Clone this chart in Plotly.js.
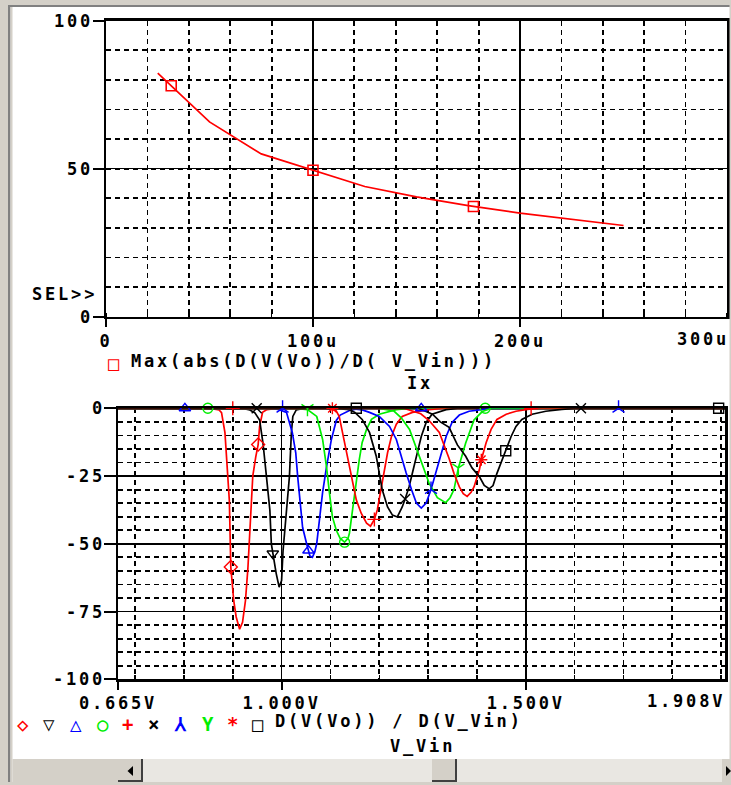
<!DOCTYPE html>
<html><head><meta charset="utf-8">
<script src="https://cdn.plot.ly/plotly-3.0.1.min.js"></script>
<style>
html,body{margin:0;padding:0;background:#fff;overflow:hidden}
svg text{letter-spacing:2.8px;font-weight:700 !important}
</style></head>
<body><div id="chart" style="width:731px;height:785px"></div>
<script>
// ---------- top plot data: Max(abs(D(V(Vo))/D(V_Vin))) vs Ix ----------
const ixValues = [25e-6, 50e-6, 75e-6, 100e-6, 125e-6, 150e-6, 175e-6, 200e-6, 225e-6, 250e-6];
const maxGain  = [82.3, 65.8, 55.0, 49.5, 44.0, 40.5, 37.5, 35.0, 33.0, 30.8];
const topMarkerIx = [31.5e-6, 100e-6, 177.5e-6];

const topXTickVals = [0, 100e-6, 200e-6];
const topXTickText = ['0', '100u', '200u'];
const topXEndLabel = '300u';
const topYTickVals = [0, 50, 100];
const topYTickText = ['0', '50', '100'];

// ---------- bottom plot data: D(V(Vo))/D(V_Vin) vs V_Vin, one per Ix step ----------
const v1 = [0.665,0.80,0.86,0.872,0.877,0.884,0.890,0.893,0.896,0.902,0.907,0.914,0.920,0.926,0.931,0.935,0.938,0.941,0.947,0.952,0.955,0.961,0.970,0.99,1.908];
const d1 = [0,0,-0.2,-0.6,-1.6,-9,-25,-34,-58.6,-71,-77,-81.5,-79,-71,-59,-46,-34,-25,-18,-13.4,-6.7,-1.5,-0.5,0,0];
const v2 = [0.665,0.90,0.925,0.935,0.945,0.955,0.962,0.969,0.976,0.979,0.984,0.989,0.995,1.000,1.003,1.010,1.016,1.020,1.023,1.030,1.045,1.908];
const d2 = [0,0,-0.2,-0.6,-1.6,-4.3,-13,-25.2,-37.6,-50,-56,-61,-66,-63.6,-52.5,-37.6,-25.2,-9.1,-3,-0.6,0,0];
const v3 = [0.665,0.98,0.995,1.010,1.022,1.029,1.033,1.037,1.043,1.051,1.058,1.063,1.068,1.072,1.078,1.084,1.092,1.102,1.112,1.120,1.139,1.16,1.908];
const d3 = [0,0,-0.5,-1.5,-9,-16.4,-25.3,-33.8,-43.9,-49.8,-54.5,-55,-53,-49.8,-40,-31,-21.6,-11.5,-4.5,-2.5,-0.8,0,0];
const v4 = [0.665,1.03,1.053,1.072,1.084,1.092,1.098,1.104,1.112,1.120,1.129,1.136,1.139,1.145,1.153,1.159,1.165,1.174,1.184,1.200,1.235,1.26,1.908];
const d4 = [0,0,-0.5,-3,-11.5,-21.6,-31.2,-40,-45,-48,-49.4,-48,-46,-37.5,-27.5,-19,-12.6,-7.8,-4.1,-2.2,-0.5,0,0];
const v5 = [0.665,1.09,1.105,1.112,1.118,1.125,1.135,1.143,1.153,1.163,1.174,1.182,1.190,1.196,1.204,1.210,1.217,1.225,1.235,1.247,1.268,1.302,1.33,1.908];
const d5 = [0,0,-0.5,-1,-3,-8.9,-17.8,-25.3,-33.8,-38.7,-42.4,-43.5,-41,-37.5,-30,-23.8,-16.4,-10.4,-5.9,-3,-1.5,-0.5,0,0];
const v6 = [0.665,1.11,1.139,1.150,1.165,1.180,1.194,1.200,1.206,1.217,1.227,1.237,1.247,1.253,1.261,1.268,1.276,1.286,1.296,1.308,1.337,1.36,1.908];
const d6 = [0,0,-0.5,-1.5,-4.1,-8.9,-17.8,-23.8,-30,-36.4,-39.4,-40.1,-36.4,-33.5,-29,-23.8,-17.8,-10.4,-5.2,-2.2,-0.5,0,0];
const v7 = [0.665,1.14,1.165,1.180,1.200,1.221,1.235,1.245,1.255,1.266,1.276,1.286,1.296,1.306,1.317,1.327,1.337,1.349,1.364,1.384,1.405,1.43,1.908];
const d7 = [0,0,-0.6,-1.5,-3,-6.7,-11.5,-17.8,-23.8,-30,-35,-36.8,-35,-30,-22.7,-16.4,-10.4,-5.2,-2.5,-1.1,-0.5,0,0];
const v8 = [0.665,1.20,1.230,1.245,1.262,1.282,1.302,1.319,1.336,1.345,1.353,1.362,1.377,1.394,1.411,1.43,1.908];
const d8 = [0,0,-1,-3.5,-7.8,-17.7,-27.6,-33,-34.8,-33,-30,-22,-12.8,-4.3,-1.2,0,0];
const v9 = [0.665,1.25,1.285,1.302,1.323,1.337,1.343,1.353,1.364,1.372,1.380,1.388,1.394,1.405,1.409,1.419,1.429,1.441,1.460,1.480,1.507,1.53,1.908];
const d9 = [0,0,-2,-4.5,-8.9,-15.2,-18.5,-24,-29,-31.5,-32.5,-31,-29,-22.7,-19,-12.6,-7.8,-4.1,-2.2,-1.1,-0.3,0,0];
const v10 = [0.665,1.28,1.309,1.325,1.343,1.360,1.377,1.390,1.405,1.415,1.425,1.433,1.441,1.452,1.460,1.470,1.480,1.492,1.513,1.541,1.574,1.60,1.908];
const d10 = [0,0,-2.2,-5,-7,-13.5,-17.7,-22,-25.2,-28.5,-29.7,-28.5,-24,-19,-15.2,-10.4,-6.7,-4.1,-2.2,-1.1,-0.4,0,0];

const markerV = [[0.896,0.952],[0.982],[0.802,1.055,1.286],[0.849,1.129,1.417],[0.900,1.190,1.511],
                 [0.949,1.253,1.613],[1.002,1.306,1.690],[1.053,1.362],[1.104,1.409],[1.153,1.459,1.895]];

const botXTickVals = [0.665, 1.0, 1.5];
const botXTickText = ['0.665V', '1.000V', '1.500V'];
const botXEndLabel = '1.908V';
const botYTickVals = [-100, -75, -50, -25, 0];
const botYTickText = ['-100', '-75', '-50', '-25', '0'];

const legendSymbols = ['\u25C7','\u25BD','\u25B3','\u25CB','+','\u00D7','\u2144','Y','*','\u25A1'];
const topLegendText = 'Max(abs(D(V(Vo))/D( V_Vin)))';
const botLegendText = 'D(V(Vo)) / D(V_Vin)';

// ---------- styles ----------
const seriesV = [v1,v2,v3,v4,v5,v6,v7,v8,v9,v10];
const seriesD = [d1,d2,d3,d4,d5,d6,d7,d8,d9,d10];
const colors = ['#ff0000','#000000','#0000ff','#00ee00','#ff0000','#000000','#0000ff','#00ee00','#ff0000','#000000'];
const symbols = ['diamond-open','triangle-down-open','triangle-up-open','circle-open','cross-thin','x-thin','y-up','y-down','asterisk','square-open'];

const W = 731, H = 785;
const px = x => x / W, py = y => 1 - y / H;
function interp(xs, ys, x) {
  for (let i = 1; i < xs.length; i++) {
    if (x <= xs[i]) { const t = (x - xs[i-1]) / (xs[i] - xs[i-1]); return ys[i-1] + t * (ys[i] - ys[i-1]); }
  }
  return ys[ys.length - 1];
}

const traces = [];
traces.push({x: ixValues, y: maxGain, type: 'scatter', mode: 'lines', xaxis: 'x', yaxis: 'y',
  line: {color: '#ff0000', width: 1.7}});
traces.push({x: topMarkerIx, y: topMarkerIx.map(x => interp(ixValues, maxGain, x)), type: 'scatter', mode: 'markers',
  xaxis: 'x', yaxis: 'y', cliponaxis: false,
  marker: {symbol: 'square-open', size: 10, color: '#ff0000', line: {width: 1.6, color: '#ff0000'}}});
for (let i = 0; i < 10; i++) {
  traces.push({x: seriesV[i], y: seriesD[i], type: 'scatter', mode: 'lines', xaxis: 'x2', yaxis: 'y2',
    line: {color: colors[i], width: 1.7}});
}
for (let i = 0; i < 10; i++) {
  traces.push({x: markerV[i], y: markerV[i].map(x => interp(seriesV[i], seriesD[i], x)), type: 'scatter', mode: 'markers',
    xaxis: 'x2', yaxis: 'y2', cliponaxis: false,
    marker: {symbol: symbols[i], size: 10, color: colors[i], line: {width: 1.4, color: colors[i]}}});
}

const FONT = '"DejaVu Sans Mono", monospace';
const FS = 17;
const tickFont = {family: FONT, size: FS, color: '#000', weight: 'bold'};
const minorGrid = {showgrid: true, gridcolor: '#000', griddash: '5px,4px', gridwidth: 1.8};
function axis(o) {
  return Object.assign({showline: true, linewidth: 2.5, linecolor: '#000', mirror: true,
    showgrid: true, gridcolor: '#000', gridwidth: 1.5, zeroline: false, ticks: 'outside',
    tickcolor: '#000', tickwidth: 2, tickfont: tickFont, fixedrange: true, tickmode: 'array'}, o);
}

const layout = {
  width: W, height: H, margin: {l: 0, r: 0, t: 0, b: 0},
  paper_bgcolor: '#fff', plot_bgcolor: '#fff', showlegend: false, hovermode: false,
  font: {family: FONT, size: FS, color: '#000', weight: 'bold'},
  xaxis: axis({domain: [px(106), px(727)], range: [0, 300e-6], anchor: 'y',
    tickvals: topXTickVals, ticktext: topXTickText, ticklen: 8, ticklabelstandoff: -1,
    minor: Object.assign({tickmode: 'linear', tick0: 0, dtick: 20e-6, ticks: 'inside', ticklen: 4, tickcolor: '#000', tickwidth: 1.5}, minorGrid)}),
  yaxis: axis({domain: [py(316.7), py(20.7)], range: [0, 100], anchor: 'x',
    tickvals: topYTickVals, ticktext: topYTickText, ticklen: 11, ticklabelstandoff: -4,
    minor: Object.assign({tickmode: 'linear', tick0: 0, dtick: 10, ticks: ''}, minorGrid)}),
  xaxis2: axis({domain: [px(118), px(725)], range: [0.665, 1.908], anchor: 'y2',
    tickvals: botXTickVals, ticktext: botXTickText, ticklen: 8, ticklabelstandoff: -1,
    minor: Object.assign({tickmode: 'linear', tick0: 0, dtick: 0.1, ticks: 'inside', ticklen: 4, tickcolor: '#000', tickwidth: 1.5}, minorGrid)}),
  yaxis2: axis({domain: [py(679.3), py(408.3)], range: [-100, 0], anchor: 'x2',
    tickvals: botYTickVals, ticktext: botYTickText, ticklen: 12, ticklabelstandoff: -5,
    minor: Object.assign({tickmode: 'linear', tick0: 0, dtick: 5, ticks: ''}, minorGrid)}),
  annotations: [],
  shapes: []
};

function ann(text, x, y, xanchor, color, size) {
  layout.annotations.push({text: text, xref: 'paper', yref: 'paper', x: px(x), y: py(y), xanchor: xanchor, yanchor: 'middle',
    showarrow: false, borderpad: 0, font: {family: FONT, size: size || FS, color: color || '#000', weight: 'bold'}});
}
ann(topXEndLabel, 730, 339, 'right');
ann(botXEndLabel, 726, 701, 'right');
ann('SEL>>', 31, 294, 'left');
ann('\u25A1', 115, 363, 'center', '#ff0000', 19);
ann(topLegendText, 130, 361, 'left');
ann('Ix', 420, 383, 'center');
const legX = [22, 48, 75, 102, 127, 153, 180, 207, 232, 257];
legendSymbols.forEach((s, i) => ann(s, legX[i] + 1.5, 724, 'center', colors[i], 19));
ann(botLegendText, 274, 721, 'left');
ann('V_Vin', 423, 746, 'center');

function rect(x0, y0, x1, y1, color) {
  layout.shapes.push({type: 'rect', xref: 'paper', yref: 'paper', x0: px(x0), x1: px(x1), y0: py(y0), y1: py(y1),
    fillcolor: color, line: {width: 0}, layer: 'above'});
}
function path(pts, color) {
  const d = pts.map((p, i) => (i ? 'L' : 'M') + px(p[0]) + ',' + py(p[1])).join(' ') + ' Z';
  layout.shapes.push({type: 'path', xref: 'paper', yref: 'paper', path: d, fillcolor: color, line: {width: 0}, layer: 'above'});
}
// window chrome
rect(0, 0, 731, 5, '#d4d0c8');
rect(0, 5, 731, 7, '#808080');
rect(0, 0, 8, 785, '#d4d0c8');
rect(8, 5, 10.5, 785, '#808080');
rect(10.5, 7, 12.5, 785, '#d4d0c8');
rect(729.5, 5, 731, 785, '#d4d0c8');
// scrollbar
rect(12.5, 759, 118, 782, '#d4d0c8');
rect(143, 759, 722, 782, '#e9e7e2');
rect(118, 759, 143, 782, '#d4d0c8');
rect(141, 759, 143, 782, '#404040');
rect(118, 780, 143, 782, '#404040');
rect(432, 759, 457, 782, '#d4d0c8');
rect(455, 759, 457, 782, '#404040');
rect(432, 780, 457, 782, '#404040');
rect(722, 759, 731, 782, '#d4d0c8');
rect(0, 782, 731, 785, '#d4d0c8');
path([[133, 766], [133, 776], [127.5, 771]], '#000');
path([[726, 766], [726, 776], [731, 771]], '#000');

Plotly.newPlot('chart', traces, layout, {staticPlot: true, displayModeBar: false});
</script>
</body></html>
